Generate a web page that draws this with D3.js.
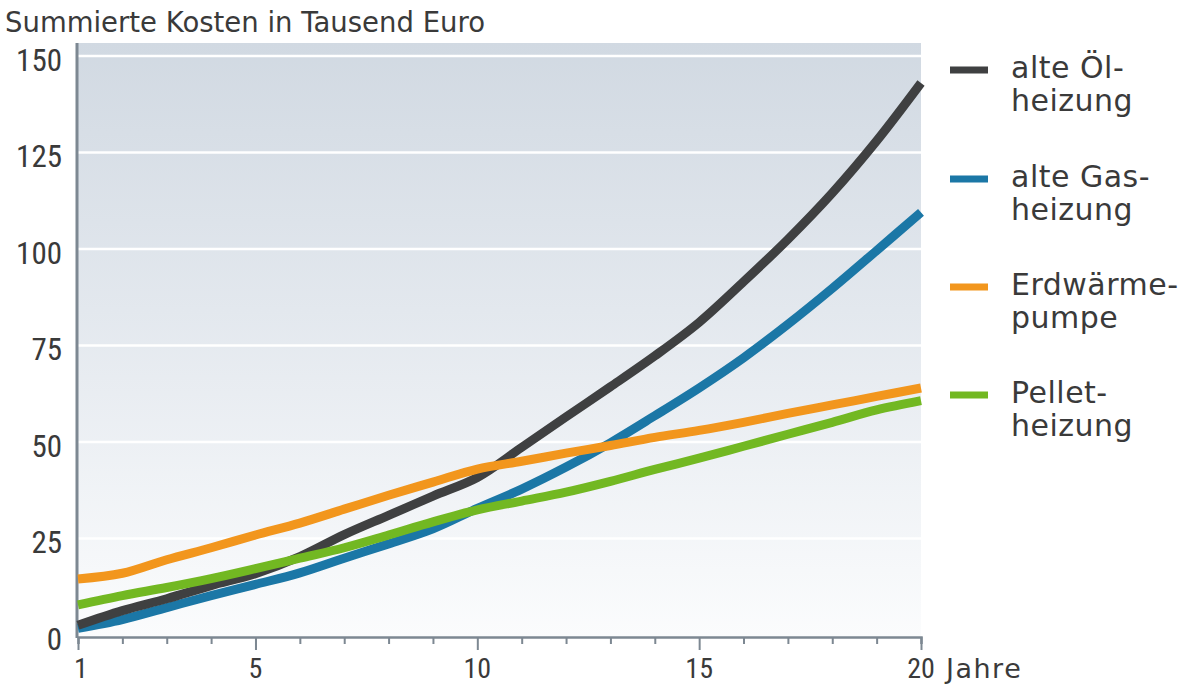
<!DOCTYPE html>
<html lang="de">
<head>
<meta charset="utf-8">
<script src="https://cdn.jsdelivr.net/npm/d3@7"></script>
<style>
  html, body { margin: 0; padding: 0; background: #fff; }
  svg { display: block; }
  text { fill: #3a3a3a; }
  .num { font-family: "Roboto Condensed", "DejaVu Sans Condensed", Roboto, sans-serif; font-weight: 400; }
  .word { font-family: "DejaVu Sans", "Noto Sans", sans-serif; }
</style>
</head>
<body>
<svg id="chart" width="1196" height="685"></svg>
<script>
// Jahre 1 bis 20
const years = d3.range(1, 21);

// Summierte Kosten in Tausend Euro je Heizungsart
const oelValues     = [2.5, 6.3, 9.4, 12.8, 15.9, 20.3, 26.0, 31.0, 36.0, 40.8, 48.6, 56.5, 64.3, 72.3, 81.0, 91.5, 102.5, 114.5, 128.0, 143.0];
const gasValues     = [1.7, 4.0, 7.1, 10.2, 13.1, 16.1, 19.9, 23.6, 27.5, 32.8, 37.8, 43.5, 49.8, 56.8, 64.0, 71.8, 80.5, 89.8, 99.6, 109.5];
const erdValues     = [14.5, 16.0, 19.5, 22.6, 25.9, 29.0, 32.6, 36.2, 39.6, 43.0, 45.0, 47.1, 49.1, 51.2, 53.0, 55.1, 57.4, 59.6, 61.8, 64.0];
const pelletValues  = [7.8, 10.2, 12.3, 14.6, 17.2, 19.9, 22.6, 25.9, 29.3, 32.4, 34.7, 37.0, 39.8, 42.9, 45.8, 48.9, 52.0, 55.1, 58.3, 60.7];

const yTicks = [0, 25, 50, 75, 100, 125, 150];
const xTickLabels = [1, 5, 10, 15, 20];

// Reihenfolge = Zeichenreihenfolge (unten nach oben)
const series = [
  { name: ["alte Gas-", "heizung"],   values: gasValues,    color: "#1b77a6", legendOrder: 1 },
  { name: ["alte Öl-", "heizung"],    values: oelValues,    color: "#3f4041", legendOrder: 0 },
  { name: ["Pellet-", "heizung"],     values: pelletValues, color: "#72b822", legendOrder: 3 },
  { name: ["Erdwärme-", "pumpe"],     values: erdValues,    color: "#f2961d", legendOrder: 2 }
];

const svg = d3.select("#chart");
const plot = { left: 78, right: 921, top: 43, bottom: 637 };

const x = d3.scaleLinear().domain([1, 20]).range([plot.left, plot.right]);
const y = d3.scaleLinear().domain([0, 150]).range([635, 56]);

// Hintergrundverlauf
const defs = svg.append("defs");
const grad = defs.append("linearGradient")
  .attr("id", "bg").attr("x1", 0).attr("y1", 0).attr("x2", 0).attr("y2", 1);
grad.append("stop").attr("offset", "0%").attr("stop-color", "#d1d9e2");
grad.append("stop").attr("offset", "45%").attr("stop-color", "#e3e8ee");
grad.append("stop").attr("offset", "100%").attr("stop-color", "#fbfcfd");

svg.append("rect")
  .attr("x", plot.left).attr("y", plot.top)
  .attr("width", plot.right - plot.left).attr("height", plot.bottom - plot.top)
  .attr("fill", "url(#bg)");

// Gitterlinien
svg.append("g")
  .selectAll("line")
  .data(yTicks.filter(d => d > 0))
  .join("line")
  .attr("x1", plot.left).attr("x2", plot.right)
  .attr("y1", d => y(d)).attr("y2", d => y(d))
  .attr("stroke", "#ffffff").attr("stroke-width", 2.5);

// Y-Achse
svg.append("line")
  .attr("x1", plot.left - 1).attr("x2", plot.left - 1)
  .attr("y1", plot.top).attr("y2", plot.bottom + 1)
  .attr("stroke", "#7d8892").attr("stroke-width", 3);

svg.append("g")
  .selectAll("text")
  .data(yTicks)
  .join("text")
  .attr("class", "num")
  .attr("x", 62).attr("y", d => y(d) + 14.5)
  .attr("text-anchor", "end")
  .attr("font-size", 31)
  .text(d => d);

// X-Achse
const xAxis = d3.axisBottom(x)
  .tickValues(years)
  .tickSize(7)
  .tickFormat("");
const gx = svg.append("g")
  .attr("transform", `translate(0,${plot.bottom})`)
  .call(xAxis);
gx.select(".domain").attr("stroke", "#7d8892").attr("stroke-width", 2.5);
gx.selectAll(".tick line")
  .attr("stroke", "#7d8892").attr("stroke-width", 2)
  .attr("y2", d => xTickLabels.includes(d) ? 13 : 7);

svg.append("g")
  .selectAll("text")
  .data(xTickLabels)
  .join("text")
  .attr("class", "num")
  .attr("x", d => x(d) + (d === 1 ? 3 : 0))
  .attr("y", 678)
  .attr("text-anchor", "middle")
  .attr("font-size", 28)
  .text(d => d);

svg.append("text")
  .attr("class", "word")
  .attr("x", 946).attr("y", 678)
  .attr("font-size", 27)
  .attr("letter-spacing", 1.5)
  .text("Jahre");

// Titel
svg.append("text")
  .attr("class", "word")
  .attr("x", 5).attr("y", 32)
  .attr("font-size", 27.5)
  .text("Summierte Kosten in Tausend Euro");

// Linien
const line = d3.line()
  .x((d, i) => x(years[i]))
  .y(d => y(d))
  .curve(d3.curveCatmullRom.alpha(0.5));

svg.append("g")
  .selectAll("path")
  .data(series)
  .join("path")
  .attr("d", d => line(d.values))
  .attr("fill", "none")
  .attr("stroke", d => d.color)
  .attr("stroke-width", 9)
  .attr("stroke-linecap", "butt")
  .attr("stroke-linejoin", "round");

// Legende
const legendTop = [70, 179, 287, 395];
const lg = svg.append("g")
  .selectAll("g")
  .data(series)
  .join("g")
  .attr("transform", d => `translate(0,${legendTop[d.legendOrder]})`);

lg.append("line")
  .attr("x1", 950).attr("x2", 988)
  .attr("y1", 0).attr("y2", 0)
  .attr("stroke", d => d.color)
  .attr("stroke-width", 7);

lg.append("text")
  .attr("class", "word")
  .attr("font-size", 30)
  .attr("letter-spacing", 0.5)
  .selectAll("tspan")
  .data(d => d.name)
  .join("tspan")
  .attr("x", 1011)
  .attr("y", (d, i) => 8 + i * 33)
  .text(d => d);
</script>
</body>
</html>
